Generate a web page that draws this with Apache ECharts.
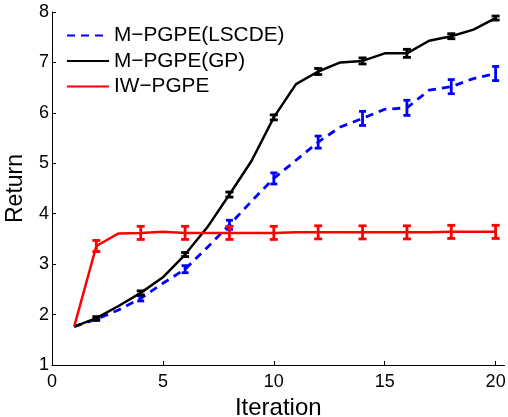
<!DOCTYPE html>
<html><head><meta charset="utf-8">
<script src="https://cdn.jsdelivr.net/npm/echarts@6/dist/echarts.min.js"></script>
<style>html,body{margin:0;padding:0;background:#fff}#c{width:508px;height:417px}</style>
</head><body><div id="c"></div>
<script>
const iterations = [1,2,3,4,5,6,7,8,9,10,11,12,13,14,15,16,17,18,19,20];
const lscde = [1.76,1.91,2.09,2.32,2.62,2.90,3.33,3.78,4.25,4.70,5.06,5.42,5.72,5.89,6.07,6.10,6.45,6.52,6.68,6.78];
const gp    = [1.76,1.93,2.17,2.43,2.74,3.19,3.73,4.38,5.05,5.91,6.57,6.82,7.00,7.03,7.18,7.18,7.43,7.52,7.65,7.88];
const iw    = [1.76,3.36,3.61,3.62,3.64,3.62,3.62,3.62,3.62,3.62,3.63,3.63,3.63,3.63,3.63,3.63,3.63,3.64,3.64,3.64];
const errIters = [2,4,6,8,10,12,14,16,18,20];
const lscdeErr = [0.03,0.05,0.07,0.09,0.11,0.12,0.14,0.15,0.14,0.14];
const gpErr    = [0.03,0.04,0.04,0.05,0.05,0.06,0.06,0.08,0.05,0.04];
const iwErr    = [0.11,0.13,0.13,0.13,0.13,0.13,0.13,0.13,0.13,0.13];
const xTicks = [0,5,10,15,20];

const FONT = '"Liberation Sans", Arial, sans-serif';
function pairs(vals){ return iterations.map((x,i)=>[x, vals[i]]); }
function errData(vals, errs){
  return errIters.map((x,i)=>{ const v = vals[iterations.indexOf(x)]; return [x, v-errs[i], v+errs[i]]; });
}
function errSeries(name, vals, errs, color, capHalf, lw, z){
  return {
    type:'custom', name: name+'-err', z: z, silent:true,
    data: errData(vals, errs),
    encode:{x:0, y:[1,2]},
    renderItem: function(params, api){
      const x = api.value(0);
      const lo = api.coord([x, api.value(1)]);
      const hi = api.coord([x, api.value(2)]);
      const st = {stroke: color, lineWidth: lw};
      return {type:'group', children:[
        {type:'line', shape:{x1:lo[0], y1:lo[1], x2:hi[0], y2:hi[1]}, style:st},
        {type:'line', shape:{x1:lo[0]-capHalf, y1:lo[1], x2:lo[0]+capHalf, y2:lo[1]}, style:st},
        {type:'line', shape:{x1:hi[0]-capHalf, y1:hi[1], x2:hi[0]+capHalf, y2:hi[1]}, style:st}
      ]};
    }
  };
}

const chart = echarts.init(document.getElementById('c'), null, {renderer:'canvas'});
chart.setOption({
  animation:false,
  backgroundColor:'#fff',
  grid:{left:52, right:3.5, top:12, bottom:52, containLabel:false, outerBoundsMode:'none'},
  legend:{
    orient:'vertical', left:61, top:20, itemWidth:42, itemHeight:14, itemGap:4.5,
    itemStyle:{opacity:0},
    textStyle:{fontFamily:FONT, fontSize:20.8, color:'#000'},
    data:['M−PGPE(LSCDE)','M−PGPE(GP)','IW−PGPE']
  },
  xAxis:{
    type:'value', min:0, max:20.4, interval:5,
    name:'Iteration', nameLocation:'middle', nameGap:25,
    nameTextStyle:{fontFamily:FONT, fontSize:24, color:'#000'},
    axisLine:{show:true, onZero:false, lineStyle:{color:'#000', width:1}},
    axisTick:{show:true, inside:true, length:4, customValues:xTicks, lineStyle:{color:'#000'}},
    axisLabel:{customValues:xTicks, fontFamily:FONT, fontSize:18, color:'#000', margin:8},
    splitLine:{show:false}
  },
  yAxis:{
    type:'value', min:1, max:8, interval:1,
    name:'Return', nameLocation:'middle', nameGap:25, nameRotate:90,
    nameTextStyle:{fontFamily:FONT, fontSize:23, color:'#000'},
    axisLine:{show:true, onZero:false, lineStyle:{color:'#000', width:1}},
    axisTick:{show:true, inside:true, length:4, lineStyle:{color:'#000'}},
    axisLabel:{fontFamily:FONT, fontSize:18, color:'#000', margin:3},
    splitLine:{show:false}
  },
  series:[
    {name:'M−PGPE(LSCDE)', type:'line', data:pairs(lscde), symbol:'none', z:3,
     lineStyle:{color:'#0000ff', width:2.8, type:[8,6]}, itemStyle:{color:'#0000ff'}},
    errSeries('lscde', lscde, lscdeErr, '#0000ff', 3.5, 2.8, 3),
    {name:'M−PGPE(GP)', type:'line', data:pairs(gp), symbol:'none', z:4,
     lineStyle:{color:'#000000', width:2.5}, itemStyle:{color:'#000000'}},
    errSeries('gp', gp, gpErr, '#000000', 4, 2.8, 4),
    {name:'IW−PGPE', type:'line', data:pairs(iw), symbol:'none', z:5,
     lineStyle:{color:'#ff0000', width:2.5}, itemStyle:{color:'#ff0000'}},
    errSeries('iw', iw, iwErr, '#ff0000', 4, 2.8, 5)
  ]
});
</script></body></html>
